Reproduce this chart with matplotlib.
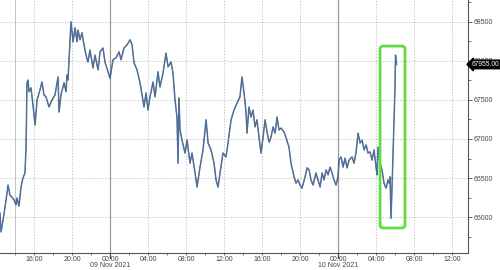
import matplotlib
matplotlib.use("Agg")
import matplotlib.pyplot as plt
import matplotlib.dates as mdates
from matplotlib.patches import FancyBboxPatch
from matplotlib.transforms import IdentityTransform, blended_transform_factory
from datetime import datetime, timedelta

plt.rcParams["font.family"] = ["Liberation Sans", "DejaVu Sans"]

# hours relative to 09 Nov 2021 00:00
hours = [-11.58, -11.47, -11.26, -11.05, -10.84, -10.74, -10.53, -10.32, -10.11, -9.89,
         -9.79, -9.58, -9.37, -9.16, -8.95, -8.84, -8.74, -8.63, -8.53, -8.32,
         -8.11, -7.89, -7.68, -7.37, -7.16, -6.95, -6.74, -6.42, -6.11, -5.79,
         -5.47, -5.37, -5.16, -4.84, -4.63, -4.53, -4.42, -4.21, -4.11, -3.89,
         -3.68, -3.47, -3.37, -3.16, -2.95, -2.74, -2.53, -2.32, -2.11, -1.79,
         -1.58, -1.26, -1.05, -0.74, -0.53, -0.21, 0.00, 0.32, 0.63, 0.95,
         1.16, 1.47, 1.79, 2.11, 2.32, 2.53, 2.84, 3.16, 3.58, 3.79,
         4.00, 4.21, 4.53, 4.74, 5.05, 5.26, 5.58, 5.89, 6.11, 6.42,
         6.63, 6.84, 7.05, 7.16, 7.26, 7.37, 7.58, 7.89, 8.11, 8.42,
         8.63, 8.95, 9.16, 9.47, 9.79, 10.11, 10.32, 10.63, 10.95, 11.16,
         11.37, 11.58, 11.89, 12.21, 12.42, 12.74, 13.05, 13.37, 13.68, 13.89,
         14.11, 14.32, 14.42, 14.63, 14.84, 15.05, 15.26, 15.47, 15.68, 15.89,
         16.11, 16.32, 16.53, 16.74, 16.95, 17.16, 17.37, 17.58, 17.79, 18.00,
         18.32, 18.53, 18.84, 19.05, 19.37, 19.58, 19.79, 20.00, 20.21, 20.53,
         20.74, 20.95, 21.16, 21.37, 21.68, 21.89, 22.11, 22.32, 22.53, 22.74,
         22.95, 23.16, 23.37, 23.58, 23.79, 24.00, 24.11, 24.32, 24.53, 24.74,
         24.95, 25.16, 25.47, 25.68, 25.89, 26.11, 26.32, 26.53, 26.74, 26.95,
         27.16, 27.37, 27.58, 27.79, 28.00, 28.11, 28.21, 28.42, 28.63, 28.84,
         29.05, 29.26, 29.37, 29.47, 29.58, 29.74, 29.89, 30.00, 30.05, 30.16]

prices = [66050, 65810, 65960, 66130, 66310, 66410, 66280, 66255, 66220, 66155,
          66245, 66140, 66385, 66500, 66565, 66895, 67720, 67755, 67605, 67655,
          67435, 67180, 67500, 67630, 67730, 67565, 67540, 67410, 67500, 67565,
          67795, 67345, 67565, 67720, 67605, 67820, 67755, 68270, 68500, 68245,
          68425, 68245, 68395, 68270, 68360, 68205, 68075, 67985, 68140, 67910,
          68075, 67885, 68115, 68165, 67985, 67860, 67780, 68015, 68040, 68115,
          68015, 68165, 68205, 68270, 68205, 67975, 67885, 67720, 67410, 67590,
          67370, 67540, 67730, 67540, 67860, 67665, 67845, 68100, 67925, 67985,
          67845, 67500, 67280, 66690, 67525, 67115, 66985, 66820, 66985, 66690,
          66820, 66565, 66385, 66640, 66860, 67245, 66950, 66860, 66690, 66475,
          66385, 66565, 66820, 66770, 66950, 67245, 67370, 67460, 67540, 67795,
          67590, 67335, 67075, 67410, 67280, 67370, 67155, 67245, 67025, 66820,
          67025, 67245, 67090, 66960, 67025, 67155, 67075, 67280, 67115, 67140,
          67090, 67015, 66895, 66690, 66515, 66435, 66475, 66410, 66370, 66515,
          66630, 66605, 66475, 66410, 66565, 66475, 66385, 66565, 66475, 66605,
          66540, 66640, 66565, 66475, 66410, 66515, 66730, 66770, 66640, 66755,
          66630, 66730, 66770, 66690, 66820, 67075, 66950, 66985, 66860, 66925,
          66820, 66835, 66730, 66860, 66640, 66540, 66895, 66690, 66605, 66435,
          66370, 66475, 66435, 66515, 65985, 66605, 67245, 67690, 68075, 67955]

y_ticks = [66000, 66500, 67000, 67500, 68000, 68500]
last_label = "67955.00"
date_labels = ["09 Nov 2021", "10 Nov 2021"]

base = datetime(2021, 11, 9)
times = [base + timedelta(hours=h) for h in hours]

fig = plt.figure(figsize=(5, 2.7), dpi=100)
ax = fig.add_axes([0.0, 0.063, 0.936, 0.937])

x0 = base + timedelta(hours=-11.58)
x1 = base + timedelta(hours=37.68)
ax.set_xlim(x0, x1)
ax.set_ylim(65540, 68780)

# gridlines
for h in range(-8, 37, 4):
    t = base + timedelta(hours=h)
    if h % 24 == 0:
        ax.axvline(t, color="#9a9a9a", lw=0.9, zorder=1)
    else:
        ax.axvline(t, color="#b8b8b8", lw=0.6, ls=(0, (1.5, 2)), zorder=1)
ax.axvline(base + timedelta(hours=-10), color="#c4c4c4", lw=0.7, zorder=1)
for yv in y_ticks:
    ax.axhline(yv, color="#b8b8b8", lw=0.6, ls=(0, (1.5, 2)), zorder=1)

# series
ax.plot(times, prices, color="#1e1e1e", lw=1.1, alpha=0.6, zorder=3)
ax.plot(times, prices, color="#3a6fb5", lw=0.6, zorder=4)

# highlight box around the spike
fig.canvas.draw()
bx0, by0 = ax.transData.transform((mdates.date2num(base + timedelta(hours=28.42)), 65860))
bx1, by1 = ax.transData.transform((mdates.date2num(base + timedelta(hours=31.05)), 68190))
box = FancyBboxPatch((bx0, by0), bx1 - bx0, by1 - by0,
                     boxstyle="round,pad=0,rounding_size=3",
                     transform=IdentityTransform(), fill=False,
                     edgecolor="#5fdc46", lw=2.0, zorder=5)
fig.add_artist(box)

# axes styling
for s in ["top", "left"]:
    ax.spines[s].set_visible(False)
ax.spines["right"].set_color("#555555")
ax.spines["bottom"].set_color("#555555")
ax.spines["right"].set_linewidth(0.8)
ax.spines["bottom"].set_linewidth(0.8)

ax.yaxis.tick_right()
ax.set_yticks(y_ticks)
ax.set_yticklabels([str(v) for v in y_ticks])
ax.set_yticks([v + 250 for v in y_ticks] + [65750], minor=True)
ax.tick_params(axis="y", which="major", length=3, width=0.6, colors="#444444",
               labelsize=5, pad=1)
ax.tick_params(axis="y", which="minor", length=2, width=0.5, colors="#444444")

ax.xaxis.set_major_locator(mdates.HourLocator(byhour=[0, 4, 8, 12, 16, 20]))
ax.xaxis.set_minor_locator(mdates.HourLocator(byhour=[2, 6, 10, 14, 18, 22]))
ax.xaxis.set_major_formatter(mdates.DateFormatter("%H:%M"))
ax.tick_params(axis="x", which="major", length=1.5, width=0.6, colors="#444444",
               labelsize=5, pad=0.5)
ax.tick_params(axis="x", which="minor", length=1.5, width=0.5, colors="#444444")

date_tr = blended_transform_factory(ax.transData, fig.transFigure)
for i, lab in enumerate(date_labels):
    t = mdates.date2num(base + timedelta(days=i))
    ax.text(t, 0.004, lab, transform=date_tr, ha="center",
            va="bottom", fontsize=5, color="#444444")
    ax.plot([t, t], [0, -0.02], transform=ax.get_xaxis_transform(),
            color="#444444", lw=0.8, clip_on=False)

# last price tag
ax.annotate(last_label, xy=(1.0, prices[-1]), xycoords=("axes fraction", "data"),
            xytext=(2.5, 0), textcoords="offset points", ha="left", va="center",
            fontsize=4.8, color="white",
            bbox=dict(boxstyle="larrow,pad=0.12", fc="black", ec="black"),
            zorder=10, annotation_clip=False)

fig.savefig("out.png", dpi=100)
